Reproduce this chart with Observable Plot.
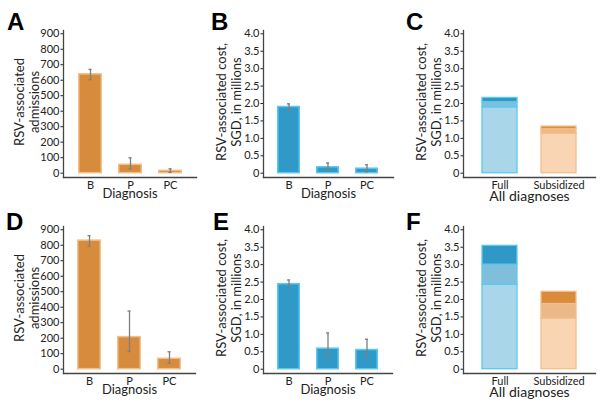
<!DOCTYPE html>
<html><head><meta charset="utf-8">
<script src="https://cdn.jsdelivr.net/npm/d3@7"></script>
<script src="https://cdn.jsdelivr.net/npm/@observablehq/plot@0.6"></script>
<style>
body{margin:0;background:#fff;}
#root{position:relative;width:600px;height:410px;overflow:hidden;font-family:Lato,sans-serif;}
.panel{position:absolute;}
.panel svg{overflow:visible;}
.letter{position:absolute;font-family:"Liberation Sans",Arial,sans-serif;font-weight:bold;font-size:24px;line-height:24px;color:#000;}
</style></head><body><div id="root"></div><script>
// ---- data ----
const diagnoses = ["B", "P", "PC"];
const payers = ["Full", "Subsidized"];

// Panel A: admissions (top row)
const admA = [638, 54, 15];
const admALo = [603, 28, 5];
const admAHi = [670, 99, 28];
// Panel B: cost, SGD millions (top row)
const costB = [1.90, 0.17, 0.13];
const costBLo = [1.78, 0.06, 0.04];
const costBHi = [1.99, 0.29, 0.24];
// Panel C: stacked cost by payer (B, P, PC components)
const costCFull = [1.89, 0.15, 0.12];
const costCSub = [1.13, 0.13, 0.08];
// Panel D: admissions (bottom row)
const admD = [830, 207, 67];
const admDLo = [793, 114, 39];
const admDHi = [862, 375, 112];
// Panel E: cost (bottom row)
const costE = [2.44, 0.59, 0.55];
const costELo = [2.33, 0.32, 0.32];
const costEHi = [2.56, 1.04, 0.86];
// Panel F: stacked cost by payer
const costFFull = [2.43, 0.57, 0.54];
const costFSub = [1.45, 0.42, 0.35];

const admTicks = [0, 100, 200, 300, 400, 500, 600, 700, 800, 900];
const costTicks = [0, 0.5, 1.0, 1.5, 2.0, 2.5, 3.0, 3.5, 4.0];

const ORANGE = "#d68c3c", ORANGE_EDGE = "#f4be8a";
const BLUE = "#2f9ac8", BLUE_EDGE = "#5cc8f2";
const stackKeys = ["Full-B", "Full-P", "Full-PC", "Subsidized-B", "Subsidized-P", "Subsidized-PC"];
const stackColors = ["#a9d6e9", "#80bfda", "#2f98c6", "#f9d5b4", "#ebb989", "#da8c3c"];

const admLabel = "RSV-associated\nadmissions";
const costLabel = "RSV-associated cost,\nSGD, in millions";

const root = document.getElementById("root");
const W = 200, H = 214, MT = 30, MB = 37;

function costFmt(d) { return d === 0 ? "0" : d.toFixed(1); }

function common(o) {
  return [
    Plot.axisY({ticks: o.ticks, tickFormat: o.fmt, tickSize: 2.5, tickPadding: 1.5, label: null, fill: "#222"}),
    Plot.axisX({tickSize: 0, tickPadding: 3.5, label: null, fill: "#222"}),
    Plot.frame({anchor: "left", stroke: "#444", strokeWidth: 1.3}),
    Plot.frame({anchor: "bottom", stroke: "#444", strokeWidth: 1.3}),
    Plot.text([o.ylabel], {frameAnchor: "left", textAnchor: "middle", rotate: -90, dx: o.ydx, dy: -2, fontSize: 13, lineHeight: 1.15, fill: "#222"}),
    Plot.text([o.xlabel], {frameAnchor: "bottom", lineAnchor: "top", dy: o.xdy, fontSize: o.xsize, fill: "#222"})
  ];
}

function barPanel(o) {
  const data = diagnoses.map((c, i) => ({cat: c, value: o.values[i], lo: o.lo[i], hi: o.hi[i]}));
  return Plot.plot({
    width: W, height: H, marginTop: MT, marginBottom: MB, marginLeft: o.ml, marginRight: o.mr,
    style: {fontFamily: "Lato, sans-serif", fontSize: "11px", background: "transparent", color: "#222"},
    x: {type: "band", domain: diagnoses, paddingInner: 0.4, paddingOuter: 0.33},
    y: {domain: o.domain},
    marks: [
      Plot.barY(data, {x: "cat", y: "value", fill: o.fill, stroke: o.stroke, strokeWidth: 1.5, insetLeft: 0.75, insetRight: 0.75}),
      Plot.ruleX(data, {x: "cat", y1: "lo", y2: "hi", stroke: "#7f7f7f", strokeWidth: 1.3}),
      Plot.tickY(data, {x: "cat", y: "lo", stroke: "#7f7f7f", strokeWidth: 1.3, insetLeft: o.cap, insetRight: o.cap}),
      Plot.tickY(data, {x: "cat", y: "hi", stroke: "#7f7f7f", strokeWidth: 1.3, insetLeft: o.cap, insetRight: o.cap}),
      ...common(o)
    ]
  });
}

function stackPanel(o) {
  const rows = [];
  payers.forEach((p, j) => {
    const vals = j === 0 ? o.full : o.sub;
    diagnoses.forEach((c, i) => rows.push({payer: p, comp: c, key: p + "-" + c, value: vals[i]}));
  });
  return Plot.plot({
    width: W, height: H, marginTop: MT, marginBottom: MB, marginLeft: o.ml, marginRight: o.mr,
    style: {fontFamily: "Lato, sans-serif", fontSize: "11px", background: "transparent", color: "#222"},
    x: {type: "band", domain: payers, paddingInner: 0.4, paddingOuter: 0.3},
    y: {domain: o.domain},
    color: {domain: stackKeys, range: stackColors},
    marks: [
      Plot.barY(rows.filter(d => d.payer === "Full"), {x: "payer", y: "value", fill: "key", stroke: BLUE_EDGE, strokeWidth: 1.3}),
      Plot.barY(rows.filter(d => d.payer === "Subsidized"), {x: "payer", y: "value", fill: "key", stroke: ORANGE_EDGE, strokeWidth: 1.3}),
      ...common(o)
    ]
  });
}

const admDomain = [-28, 921];
const costDomain = [-0.123, 4.095];

const panels = [
  {left: 0, top: 0, letter: "A", lx: 7, node: barPanel({values: admA, lo: admALo, hi: admAHi, domain: admDomain, ticks: admTicks, fmt: d => d, fill: ORANGE, stroke: ORANGE_EDGE, ylabel: admLabel, xlabel: "Diagnosis", ml: 63, mr: 4, ydx: -37, xdy: 11, xsize: 13, cap: 10.5})},
  {left: 200, top: 0, letter: "B", lx: 211, node: barPanel({values: costB, lo: costBLo, hi: costBHi, domain: costDomain, ticks: costTicks, fmt: costFmt, fill: BLUE, stroke: BLUE_EDGE, ylabel: costLabel, xlabel: "Diagnosis", ml: 63, mr: 7, ydx: -35, xdy: 11, xsize: 13, cap: 10})},
  {left: 400, top: 0, letter: "C", lx: 406, node: stackPanel({full: costCFull, sub: costCSub, domain: costDomain, ticks: costTicks, fmt: costFmt, ylabel: costLabel, xlabel: "All diagnoses", ml: 63, mr: 5, ydx: -35, xdy: 14, xsize: 14})},
  {left: 0, top: 196, letter: "D", lx: 6, node: barPanel({values: admD, lo: admDLo, hi: admDHi, domain: admDomain, ticks: admTicks, fmt: d => d, fill: ORANGE, stroke: ORANGE_EDGE, ylabel: admLabel, xlabel: "Diagnosis", ml: 63, mr: 5, ydx: -37, xdy: 11, xsize: 13, cap: 10.5})},
  {left: 200, top: 196, letter: "E", lx: 213, node: barPanel({values: costE, lo: costELo, hi: costEHi, domain: costDomain, ticks: costTicks, fmt: costFmt, fill: BLUE, stroke: BLUE_EDGE, ylabel: costLabel, xlabel: "Diagnosis", ml: 63, mr: 8, ydx: -35, xdy: 11, xsize: 13, cap: 10})},
  {left: 400, top: 196, letter: "F", lx: 406, node: stackPanel({full: costFFull, sub: costFSub, domain: costDomain, ticks: costTicks, fmt: costFmt, ylabel: costLabel, xlabel: "All diagnoses", ml: 63, mr: 5, ydx: -35, xdy: 14, xsize: 14})}
];

panels.forEach(p => {
  const div = document.createElement("div");
  div.className = "panel";
  div.style.left = p.left + "px";
  div.style.top = p.top + "px";
  div.appendChild(p.node);
  root.appendChild(div);
  const l = document.createElement("div");
  l.className = "letter";
  l.textContent = p.letter;
  l.style.left = p.lx + "px";
  l.style.top = (p.top === 0 ? 10 : 210) + "px";
  root.appendChild(l);
});
</script></body></html>
